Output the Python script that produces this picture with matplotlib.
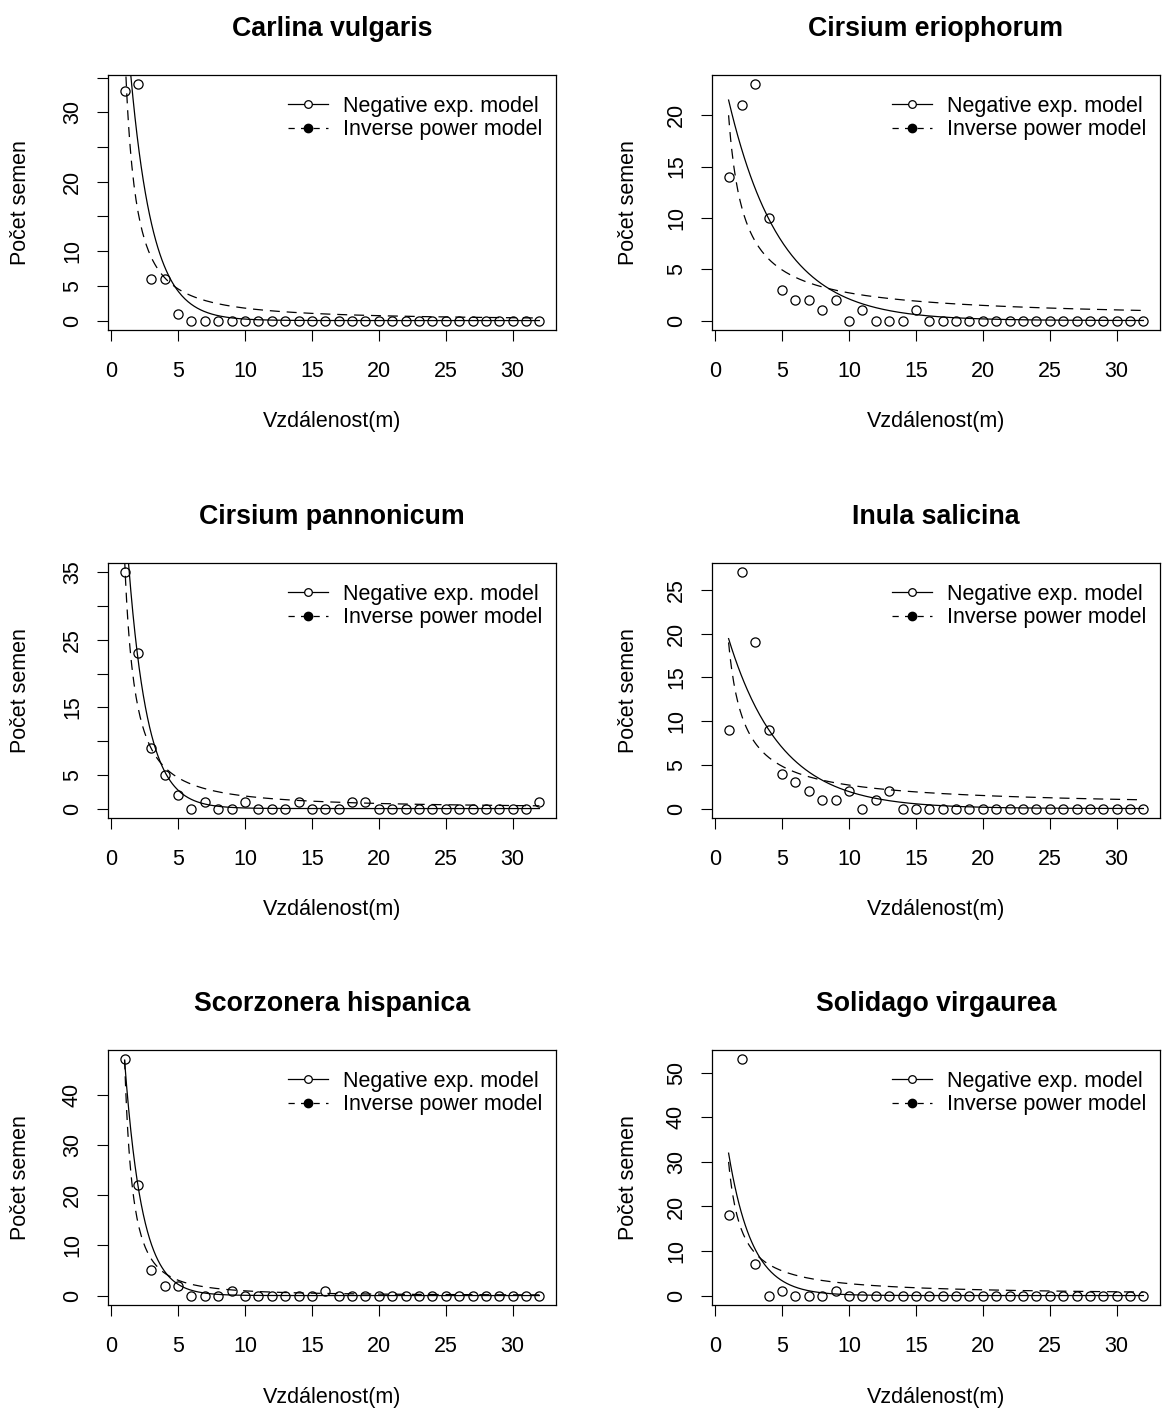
import numpy as np
import matplotlib
matplotlib.use("Agg")
import matplotlib.pyplot as plt
from matplotlib.lines import Line2D

plt.rcParams['font.family'] = ['Liberation Sans', 'DejaVu Sans']

# ---------------- data ----------------
distance = list(range(1, 33))

species = ["Carlina vulgaris", "Cirsium eriophorum", "Cirsium pannonicum",
           "Inula salicina", "Scorzonera hispanica", "Solidago virgaurea"]

carlina = [33, 34, 6, 6, 1, 0, 0, 0, 0, 0, 0, 0, 0, 0, 0, 0,
           0, 0, 0, 0, 0, 0, 0, 0, 0, 0, 0, 0, 0, 0, 0, 0]
eriophorum = [14, 21, 23, 10, 3, 2, 2, 1, 2, 0, 1, 0, 0, 0, 1, 0,
              0, 0, 0, 0, 0, 0, 0, 0, 0, 0, 0, 0, 0, 0, 0, 0]
pannonicum = [35, 23, 9, 5, 2, 0, 1, 0, 0, 1, 0, 0, 0, 1, 0, 0,
              0, 1, 1, 0, 0, 0, 0, 0, 0, 0, 0, 0, 0, 0, 0, 1]
inula = [9, 27, 19, 9, 4, 3, 2, 1, 1, 2, 0, 1, 2, 0, 0, 0,
         0, 0, 0, 0, 0, 0, 0, 0, 0, 0, 0, 0, 0, 0, 0, 0]
scorzonera = [47, 22, 5, 2, 2, 0, 0, 0, 1, 0, 0, 0, 0, 0, 0, 1,
              0, 0, 0, 0, 0, 0, 0, 0, 0, 0, 0, 0, 0, 0, 0, 0]
solidago = [18, 53, 7, 0, 1, 0, 0, 0, 1, 0, 0, 0, 0, 0, 0, 0,
            0, 0, 0, 0, 0, 0, 0, 0, 0, 0, 0, 0, 0, 0, 0, 0]
counts = [carlina, eriophorum, pannonicum, inula, scorzonera, solidago]

# fitted model parameters
negexp_a = [85, 27.8, 90, 25.1, 100, 56.3]
negexp_b = [0.6, 0.258, 0.7, 0.256, 0.76, 0.566]
invpow_c = [40, 20, 37, 19, 47, 30]
invpow_d = [1.35, 0.87, 1.3, 0.85, 1.7, 1.05]

xticks = [0, 5, 10, 15, 20, 25, 30]
yticks = [[0, 5, 10, 15, 20, 25, 30, 35],
          [0, 5, 10, 15, 20],
          [0, 5, 10, 15, 20, 25, 30, 35],
          [0, 5, 10, 15, 20, 25],
          [0, 10, 20, 30, 40],
          [0, 10, 20, 30, 40, 50]]
ytick_labels = [['0', '5', '10', '', '20', '', '30', ''],
                ['0', '5', '10', '15', '20'],
                ['0', '5', '', '15', '', '25', '', '35'],
                ['0', '5', '10', '15', '20', '25'],
                ['0', '10', '20', '30', '40'],
                ['0', '10', '20', '30', '40', '50']]

xlabel = "Vzdálenost(m)"
ylabel = "Počet semen"
legend_labels = ["Negative exp. model", "Inverse power model"]

# ---------------- layout ----------------
W, H = 1162, 1409
fig = plt.figure(figsize=(W / 100, H / 100), dpi=100)
lefts = [108, 712]
tops = [75, 563, 1050]
aw, ah = 448, 255

FS = 15.5
dash = (0, (8, 5.5))

for i, name in enumerate(species):
    r, c = divmod(i, 2)
    ax = fig.add_axes([lefts[c] / W, 1 - (tops[r] + ah) / H, aw / W, ah / H])
    y = counts[i]
    ax.plot(distance, y, 'o', mfc='none', mec='black', ms=6.6, mew=0.9,
            zorder=3)
    xs = np.linspace(distance[0], distance[-1], 400)
    ax.plot(xs, negexp_a[i] * np.exp(-negexp_b[i] * xs), color='black',
            lw=0.9)
    ax.plot(xs, invpow_c[i] * xs ** (-invpow_d[i]), color='black', lw=0.9,
            linestyle=dash)

    xr = distance[-1] - distance[0]
    ax.set_xlim(distance[0] - 0.04 * xr, distance[-1] + 0.04 * xr)
    ymax = max(y)
    ax.set_ylim(-0.04 * ymax, ymax * 1.04)

    ax.set_xticks(xticks)
    ax.set_xticklabels([str(t) for t in xticks], fontsize=FS)
    ax.set_yticks(yticks[i])
    ax.set_yticklabels(ytick_labels[i], fontsize=FS, rotation=90,
                       va='center')
    ax.tick_params(axis='both', length=8, width=0.8, color='black')
    ax.tick_params(axis='x', pad=14.5)
    ax.tick_params(axis='y', pad=10)
    for sp in ax.spines.values():
        sp.set_linewidth(0.9)

    ax.set_title(name, fontsize=FS * 1.24, fontweight='bold',
                 y=1 + 46 / ah, pad=0, va='center')
    ax.set_xlabel(xlabel, fontsize=FS)
    ax.xaxis.set_label_coords(0.5, -92 / ah)
    ax.xaxis.label.set_va('center')
    ax.set_ylabel(ylabel, fontsize=FS)
    ylab_x = 21 if c == 0 else 628
    ax.yaxis.set_label_coords((ylab_x - lefts[c]) / aw, 0.5)
    ax.yaxis.label.set_va('center')

    handles = [Line2D([], [], color='black', lw=0.9, marker='o', mfc='white',
                      mec='black', ms=5.5, mew=0.9),
               Line2D([], [], color='black', lw=0.9, linestyle=(0, (5, 5)),
                      marker='o', mfc='black', mec='black', ms=6)]
    ax.legend(handles, legend_labels, loc='upper right', frameon=False,
              fontsize=FS, handlelength=1.85, handletextpad=0.7,
              labelspacing=0.12, borderaxespad=0.66, borderpad=0.3,
              bbox_to_anchor=(1.016, 1.0))

fig.savefig("out.png", dpi=100)
